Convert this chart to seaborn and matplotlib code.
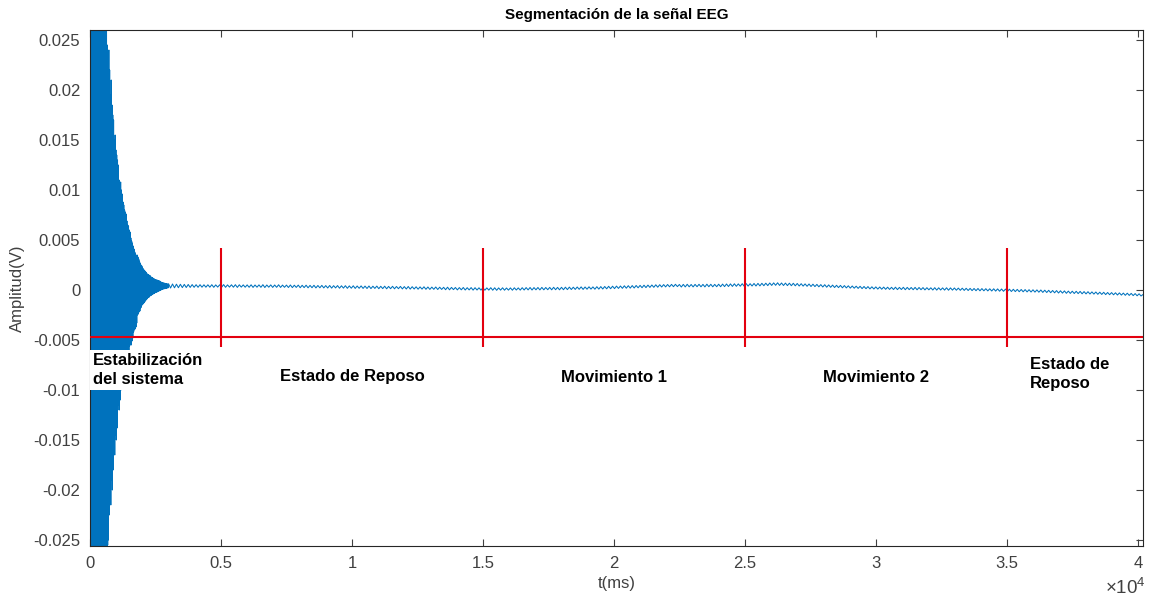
import numpy as np
import pandas as pd
import matplotlib
matplotlib.use("Agg")
import matplotlib.pyplot as plt
import seaborn as sns

# ---------------------------------------------------------------------------
# EEG recording, amplitude in units of 10 uV (1e-5 V)
# Start-up transient sampled every 15 ms (0 .. 2985 ms)
burst_step_ms = 15
burst_10uV = [
    4700, -4650, 4800, -4550, 4600, -4750, 4500, -4600, 4650, -4450,
    4300, -4200, 4150, -4350, 4050, -4100, 4200, -3950, 3900, -4050,
    3800, -3700, 3850, -3600, 3550, -3750, 3500, -3650, 3400, -3450,
    3300, -3200, 3250, -3100, 3000, -3150, 2950, -2900, 3050, -2800,
    2750, -2500, 2650, -2700, 2450, -2550, 2300, -2500, 2400, -2250,
    2200, -2050, 1950, -2150, 2100, -1900, 1850, -2000, 1750, -1800,
    1700, -1600, 1500, -1650, 1550, -1450, 1400, -1500, 1350, -1380,
    1300, -1200, 1250, -1150, 1100, -1200, 1050, -1100, 1080, -1000,
    1000, -940, 960, -900, 880, -920, 850, -870, 800, -830,
    780, -740, 760, -700, 690, -720, 650, -670, 640, -600,
    600, -560, 580, -540, 520, -550, 490, -510, 470, -480,
    440, -420, 410, -400, 380, -390, 360, -370, 340, -330,
    350, -250, 330, -240, 310, -220, 290, -210, 270, -180,
    250, -170, 240, -150, 220, -140, 210, -130, 200, -120,
    190, -110, 180, -100, 170, -90, 160, -80, 155, -75,
    150, -70, 145, -60, 140, -55, 130, -50, 125, -45,
    120, -40, 115, -35, 110, -30, 105, -25, 102, -22,
    100, -20, 98, -15, 95, -10, 92, -8, 88, -5,
    80, 0, 78, 5, 75, 8, 72, 10, 70, 12,
    68, 14, 66, 16, 64, 18, 62, 20, 60, 22,
]

# Settled signal sampled every 75 ms (3000 .. 40200 ms)
tail_start_ms = 3000
tail_step_ms = 75
tail_10uV = [
    62, 20, 60, 22, 58, 23, 57, 24, 56, 25, 55, 26, 54, 27, 53, 27, 53, 28, 52, 28,
    52, 28, 53, 27, 51, 29, 52, 28, 54, 27, 51, 29, 52, 28, 53, 26, 52, 29, 51, 28,
    51, 27, 52, 26, 50, 28, 51, 27, 53, 25, 50, 28, 51, 26, 50, 27, 52, 26, 49, 27,
    49, 25, 50, 24, 48, 26, 49, 23, 47, 24, 48, 22, 46, 23, 47, 21, 45, 22, 46, 21,
    44, 20, 45, 19, 43, 21, 44, 18, 42, 19, 43, 17, 41, 18, 42, 16, 40, 17, 41, 16,
    39, 15, 40, 14, 38, 16, 39, 13, 37, 14, 38, 12, 36, 13, 37, 12, 35, 13, 36, 11,
    34, 10, 35, 9, 33, 10, 32, 8, 31, 9, 32, 7, 30, 6, 29, 7, 30, 5, 28, 6,
    27, 3, 28, 2, 26, 4, 25, 1, 24, 2, 25, 0, 23, 1, 24, -1, 23, 0, 22, -1,
    22, -2, 21, -1, 23, -2, 22, -3, 21, -1, 22, -2, 20, -1, 21, -2, 22, 0, 21, -1,
    23, 0, 24, 1, 25, 0, 24, 2, 25, 1, 26, 2, 25, 3, 26, 2, 27, 3, 26, 2,
    27, 3, 28, 4, 29, 5, 28, 6, 30, 7, 31, 6, 30, 8, 32, 9, 31, 8, 33, 9,
    34, 10, 35, 12, 37, 13, 38, 14, 39, 16, 40, 17, 42, 18, 43, 19, 44, 20, 45, 22,
    46, 23, 48, 24, 49, 26, 50, 27, 52, 28, 53, 30, 54, 31, 55, 32, 56, 33, 57, 34,
    55, 30, 56, 31, 57, 32, 55, 31, 56, 33, 57, 32, 56, 31, 58, 33, 57, 32, 56, 33,
    58, 33, 59, 34, 60, 35, 61, 36, 62, 37, 61, 38, 63, 38, 64, 39, 63, 40, 65, 40,
    66, 41, 67, 43, 68, 44, 70, 46, 71, 47, 72, 46, 70, 45, 69, 44, 68, 43, 67, 42,
    65, 40, 63, 39, 61, 37, 60, 35, 58, 34, 56, 32, 54, 30, 53, 28, 51, 27, 49, 25,
    47, 24, 46, 22, 44, 21, 42, 19, 40, 18, 38, 16, 37, 14, 35, 13, 34, 11, 32, 10,
    31, 9, 30, 8, 29, 7, 28, 6, 27, 5, 28, 4, 26, 5, 27, 3, 26, 4, 25, 3,
    26, 2, 25, 3, 24, 1, 23, 2, 22, 0, 23, -1, 22, 0, 21, -1, 22, -2, 21, -1,
    20, -2, 19, -3, 18, -4, 17, -5, 16, -6, 15, -7, 15, -8, 14, -8, 13, -9, 12, -10,
    12, -11, 11, -12, 10, -13, 9, -14, 8, -15, 7, -16, 6, -17, 5, -18, 4, -19, 3, -20,
    2, -21, 1, -22, 0, -24, -2, -25, -3, -27, -5, -28, -6, -30, -8, -31, -9, -33, -11, -34,
    -12, -35, -13, -36, -14, -38, -16, -39, -17, -40, -19, -41, -20, -43, -22, -44, -23, -46, -25, -47,
    -26, -48, -28, -50, -29, -51, -31, -53, -32, -54, -34, -56, -36, -58, -38, -60, -45,
]

# Segment boundaries (ms) and the marker geometry in volts
segment_bounds_ms = [5000, 15000, 25000, 35000]
baseline_marker_V = -0.0047
marker_top_V = 0.0042
marker_bottom_V = -0.0057

# Segment names and their anchor points (ms, V)
segment_labels = ["Estabilización\ndel sistema", "Estado de Reposo",
                  "Movimiento 1", "Movimiento 2", "Estado de\nReposo"]
label_x_ms = [120, 10000, 20000, 30000, 35900]
label_y_V = [-0.0080, -0.0087, -0.0087, -0.0087, -0.0084]
label_ha = ["left", "center", "center", "center", "left"]

# Axis ticks
x_ticks_ms = [0, 5000, 10000, 15000, 20000, 25000, 30000, 35000, 40000]
x_tick_labels = ["0", "0.5", "1", "1.5", "2", "2.5", "3", "3.5", "4"]
y_ticks_V = [0.025, 0.02, 0.015, 0.01, 0.005, 0, -0.005, -0.01, -0.015, -0.02, -0.025]
y_tick_labels = ["0.025", "0.02", "0.015", "0.01", "0.005", "0",
                 "-0.005", "-0.01", "-0.015", "-0.02", "-0.025"]

# ---------------------------------------------------------------------------
t_ms = np.concatenate([np.arange(len(burst_10uV)) * burst_step_ms,
                       tail_start_ms + np.arange(len(tail_10uV)) * tail_step_ms])
amp_V = np.concatenate([burst_10uV, tail_10uV]) * 1e-5
eeg = pd.DataFrame({"t": t_ms, "amp": amp_V})

sns.set_style("ticks")
plt.rcParams["font.family"] = ["Liberation Sans", "DejaVu Sans"]
plt.rcParams["mathtext.fontset"] = "custom"
plt.rcParams["mathtext.rm"] = "Liberation Sans"

fig = plt.figure(figsize=(11.51, 6.0), dpi=100)
ax = fig.add_axes([90 / 1151, 1 - 546 / 600, (1143 - 90) / 1151, (546 - 30) / 600])

sns.lineplot(data=eeg, x="t", y="amp", estimator=None, sort=False,
             color="#0072BD", linewidth=0.75, ax=ax, zorder=2)

# segmentation markers
ax.axhline(baseline_marker_V, color="#e3000f", linewidth=1.5, zorder=3)
ax.vlines(segment_bounds_ms, marker_bottom_V, marker_top_V,
          color="#e3000f", linewidth=1.5, zorder=3)

for txt, xm, yv, ha in zip(segment_labels, label_x_ms, label_y_V, label_ha):
    ax.text(xm, yv, txt, ha=ha, va="center", fontsize=12, fontweight="bold",
            color="black", linespacing=1.3, zorder=4,
            bbox=dict(facecolor="white", edgecolor="none", pad=2.5))

ax.set_xlim(0, 40200)
ax.set_ylim(-0.0256, 0.026)
ax.set_xticks(x_ticks_ms)
ax.set_xticklabels(x_tick_labels)
ax.set_yticks(y_ticks_V)
ax.set_yticklabels(y_tick_labels)

tick_col = "#404040"
ax.tick_params(axis="both", which="both", direction="in", length=5, width=0.8,
               colors=tick_col, labelcolor=tick_col, labelsize=12,
               top=True, right=True, pad=7)
for sp in ax.spines.values():
    sp.set_visible(True)
    sp.set_color("#262626")
    sp.set_linewidth(0.8)

ax.set_xlabel("t(ms)", fontsize=12, color=tick_col, labelpad=4)
ax.set_ylabel("Amplitud(V)", fontsize=12, color=tick_col, labelpad=6)
ax.set_title("Segmentación de la señal EEG", fontsize=11, fontweight="bold",
             color="black", pad=8)
ax.text(1.003, -0.062, r"$\mathregular{\times10^{4}}$", transform=ax.transAxes,
        ha="right", va="top", fontsize=13.5, color=tick_col)

fig.savefig("out.png", dpi=100, facecolor="white")
